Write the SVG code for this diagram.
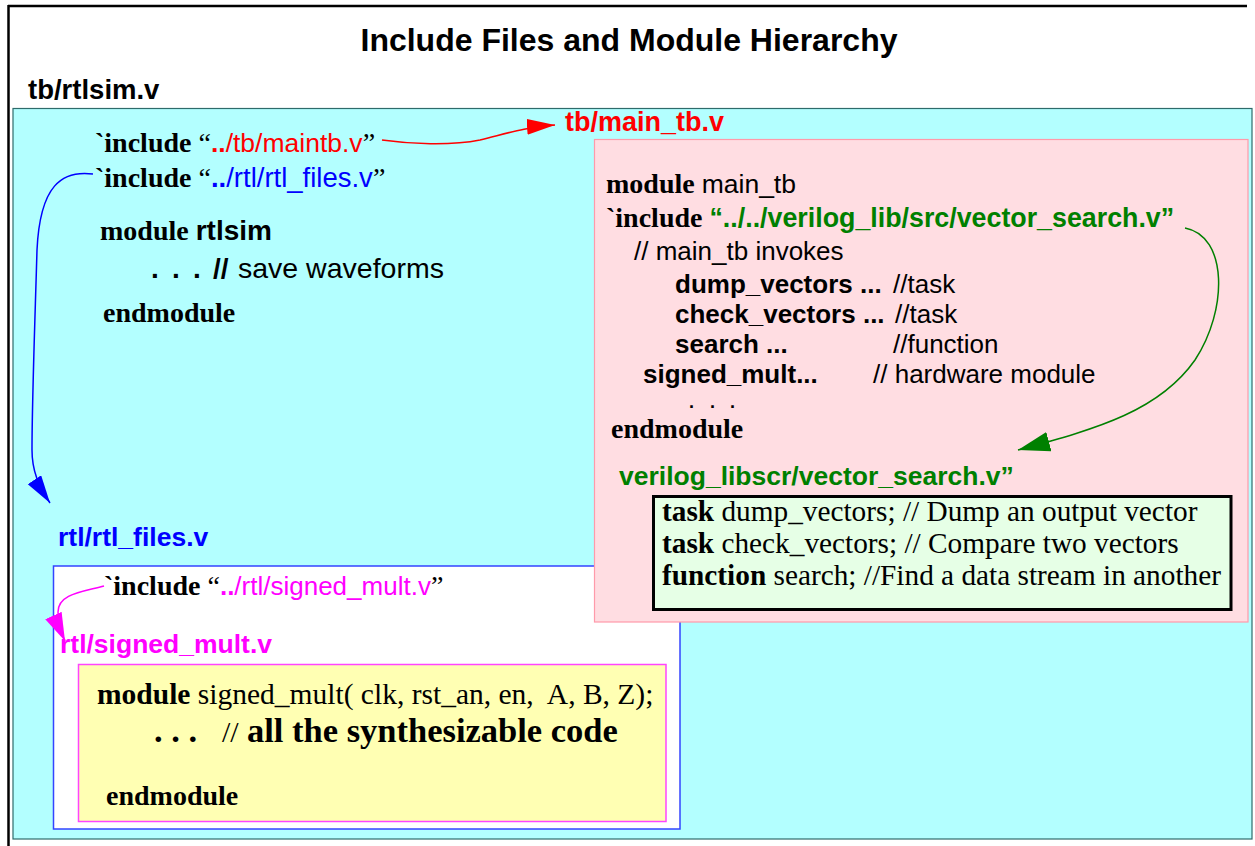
<svg xmlns="http://www.w3.org/2000/svg" width="1255" height="846" viewBox="0 0 1255 846">
<style>
.sans{font-family:"Liberation Sans",Arial,sans-serif}
.serif{font-family:"Liberation Serif","Times New Roman",serif}
.b{font-weight:bold}
.t28{font-size:28px}
.s26{font-size:26px}
.red{fill:#ff0000}
.blue{fill:#0000ff}
.mag{fill:#ff00ff}
.grn{fill:#008000}
</style>
<defs>
<marker id="ahRed" markerUnits="userSpaceOnUse" markerWidth="30" markerHeight="18" refX="28" refY="8" orient="auto"><path d="M0,0 L28,8 L0,16 z" fill="#ff0000"/></marker>
<marker id="ahBlue" markerUnits="userSpaceOnUse" markerWidth="30" markerHeight="18" refX="28" refY="8" orient="auto"><path d="M0,0 L28,8 L0,16 z" fill="#0000ff"/></marker>
<marker id="ahGreen" markerUnits="userSpaceOnUse" markerWidth="34" markerHeight="22" refX="32" refY="10" orient="auto"><path d="M0,0 L32,10 L0,20 z" fill="#008000"/></marker>
<marker id="ahMag" markerUnits="userSpaceOnUse" markerWidth="30" markerHeight="20" refX="28" refY="9" orient="auto"><path d="M0,0 L28,9 L0,18 z" fill="#ff00ff"/></marker>
</defs>
<rect x="0" y="0" width="1255" height="846" fill="#ffffff"/>
<g id="frame">
<line x1="8" y1="6" x2="1247" y2="6" stroke="#000" stroke-width="2.5"/>
<line x1="8.5" y1="5" x2="8.5" y2="846" stroke="#000" stroke-width="2.5"/>
</g>
<g id="title">
<text x="629" y="51" text-anchor="middle" class="sans b" font-size="32">Include Files and Module Hierarchy</text>
</g>
<g id="rtlsim">
<text x="28" y="99" class="sans b" font-size="27.5">tb/rtlsim.v</text>
<rect x="13" y="108.5" width="1239" height="730.5" fill="#b3ffff" stroke="#2f6b6b" stroke-width="1.2"/>
<text x="95" y="152" class="t28"><tspan class="serif b">`include</tspan><tspan class="serif"> “</tspan><tspan class="sans b red" font-size="26.5">..</tspan><tspan class="sans red" font-size="26.5">/tb/maintb.v</tspan><tspan class="serif">”</tspan></text>
<text x="95" y="187" class="t28"><tspan class="serif b">`include</tspan><tspan class="serif"> “</tspan><tspan class="sans b blue" font-size="27.5">..</tspan><tspan class="sans blue" font-size="27.5">/rtl/rtl_files.v</tspan><tspan class="serif">”</tspan></text>
<text x="100" y="240" class="t28"><tspan class="serif b">module </tspan><tspan class="sans b">rtlsim</tspan></text>
<text y="278" class="sans b t28"><tspan x="151">.</tspan><tspan x="172">.</tspan><tspan x="193">.</tspan><tspan x="213">//</tspan><tspan x="238" font-weight="normal" font-size="28.5">save waveforms</tspan></text>
<text x="103" y="322" class="serif b t28">endmodule</text>
</g>
<g id="rtl_files">
<text x="58" y="546" class="sans b blue" font-size="26.5">rtl/rtl_files.v</text>
<rect x="53.5" y="566" width="626.5" height="263" fill="#ffffff" stroke="#3344ff" stroke-width="1.5"/>
<text x="104" y="595" class="t28"><tspan class="serif b">`include</tspan><tspan class="serif"> “</tspan><tspan class="sans b mag" font-size="26">..</tspan><tspan class="sans mag" font-size="26">/rtl/signed_mult.v</tspan><tspan class="serif">”</tspan></text>
<text x="60" y="653" class="sans b mag" font-size="26.5">rtl/signed_mult.v</text>
</g>
<g id="signed_mult">
<rect x="78.5" y="664.5" width="587.5" height="157" fill="#ffffb3" stroke="#ff44ff" stroke-width="1.5"/>
<text x="97" y="704" class="serif" font-size="29.5" xml:space="preserve"><tspan class="b">module</tspan> signed_mult( clk, rst_an, en,  A, B, Z);</text>
<text y="742" class="serif b" font-size="34.5"><tspan x="154">. . .</tspan><tspan x="222" font-weight="normal" font-size="30">//</tspan><tspan x="247">all the synthesizable code</tspan></text>
<text x="106" y="805" class="serif b t28">endmodule</text>
</g>
<g id="main_tb">
<text x="565" y="131" class="sans b red" font-size="27">tb/main_tb.v</text>
<rect x="594.5" y="139.5" width="653.5" height="482.5" fill="#ffdde2" stroke="#ff9aaa" stroke-width="1.2"/>
<text x="606" y="193" class="t28"><tspan class="serif b">module </tspan><tspan class="sans" font-size="26.5">main_tb</tspan></text>
<text x="606" y="227" class="t28"><tspan class="serif b">`include </tspan><tspan class="sans b grn" font-size="26.8">“../../verilog_lib/src/vector_search.v”</tspan></text>
<text x="634" y="260" class="sans" font-size="26">// main_tb invokes</text>
<text y="293" class="sans s26"><tspan x="675" class="b">dump_vectors ...</tspan><tspan x="893">//task</tspan></text>
<text y="323" class="sans s26"><tspan x="675" class="b">check_vectors ...</tspan><tspan x="895">//task</tspan></text>
<text y="353" class="sans s26"><tspan x="675" class="b">search ...</tspan><tspan x="893">//function</tspan></text>
<text y="383" class="sans s26"><tspan x="643" class="b">signed_mult...</tspan><tspan x="873">// hardware module</tspan></text>
<text y="408" class="sans b" font-size="18"><tspan x="689">.</tspan><tspan x="710">.</tspan><tspan x="730">.</tspan></text>
<text x="611" y="438" class="serif b t28">endmodule</text>
<text x="619" y="485" class="sans b grn" font-size="26.5">verilog_libscr/vector_search.v”</text>
</g>
<g id="vector_search">
<rect x="653.5" y="496.5" width="577.5" height="113" fill="#e6ffe6" stroke="#000" stroke-width="3"/>
<text x="662" y="521" class="serif" font-size="29.3"><tspan class="b">task</tspan> dump_vectors; // Dump an output vector</text>
<text x="662" y="553" class="serif" font-size="29.3"><tspan class="b">task</tspan> check_vectors; // Compare two vectors</text>
<text x="662" y="585" class="serif" font-size="29.3"><tspan class="b">function</tspan> search; //Find a data stream in another</text>
</g>
<g id="connectors" fill="none" stroke-width="1.5">
<path d="M382,140 C410,144 450,146 480,140 C505,134 525,127 555,125" stroke="#ff0000" marker-end="url(#ahRed)"/>
<path d="M93,174 C62,170 40,185 37,250 C35,320 32,400 32,450 C32,470 38,485 50,503" stroke="#0000ff" marker-end="url(#ahBlue)"/>
<path d="M1185,228 C1228,236 1228,310 1195,360 C1160,410 1100,428 1018,450" stroke="#008000" marker-end="url(#ahGreen)"/>
<path d="M104,586 C82,592 58,594 58,612 C58,622 60,630 65,641" stroke="#ff00ff" marker-end="url(#ahMag)"/>
</g>
</svg>
